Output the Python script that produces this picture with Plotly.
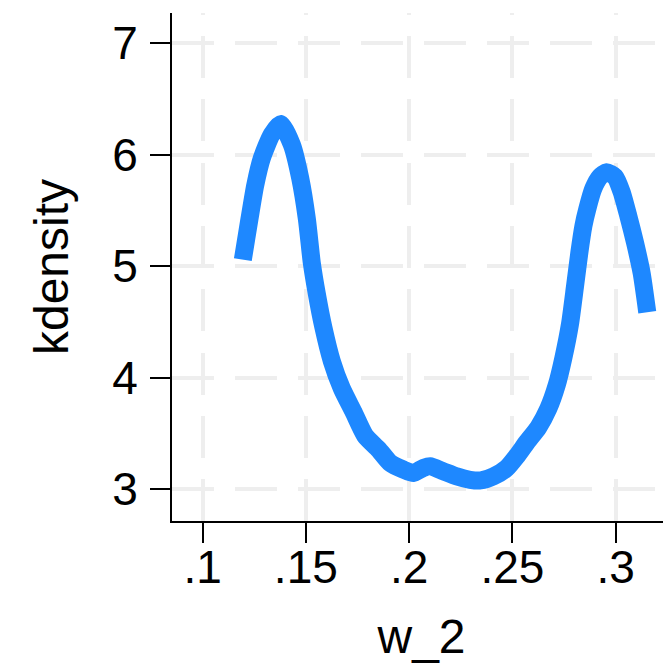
import plotly.graph_objects as go

# kernel density curve of w_2
w_2 = [0.1195, 0.1227, 0.1255, 0.1287, 0.1335, 0.1379, 0.1432, 0.1473, 0.1505,
       0.1529, 0.1553, 0.1585, 0.1626, 0.1674, 0.1731, 0.1787, 0.1852, 0.1908,
       0.1973, 0.2021, 0.2069, 0.2102, 0.2166, 0.2231, 0.2295, 0.2347, 0.2408,
       0.2473, 0.2521, 0.2569, 0.2626, 0.2674, 0.2715, 0.2747, 0.2779, 0.2803,
       0.2824, 0.2844, 0.2863, 0.2892, 0.2924, 0.2956, 0.2997, 0.3029, 0.3061,
       0.3094, 0.3126, 0.3153]
kdensity = [5.058, 5.422, 5.725, 5.968, 6.181, 6.275, 6.090, 5.786, 5.422,
            5.027, 4.754, 4.451, 4.147, 3.904, 3.692, 3.480, 3.358, 3.237,
            3.176, 3.146, 3.191, 3.206, 3.161, 3.115, 3.085, 3.079, 3.115,
            3.191, 3.297, 3.419, 3.555, 3.722, 3.935, 4.178, 4.481, 4.815,
            5.118, 5.361, 5.513, 5.695, 5.801, 5.841, 5.801, 5.665, 5.452,
            5.209, 4.936, 4.587]

x_ticks = [0.1, 0.15, 0.2, 0.25, 0.3]
x_ticklabels = [".1", ".15", ".2", ".25", ".3"]
y_ticks = [3, 4, 5, 6, 7]
y_ticklabels = ["3", "4", "5", "6", "7"]

FONT = "Liberation Sans, Arial, Helvetica, sans-serif"
GRID = "rgb(238,238,238)"

# dash patterns mimicking Stata's dashed grid
h_dash = ",".join(["42px", "21px"] * 2)
v_dash = ",".join(["2px", "21px"] + ["42px", "21.3px"] * 8)

fig = go.Figure()
fig.add_trace(go.Scatter(
    x=w_2, y=kdensity, mode="lines",
    line=dict(color="#1E88FF", width=18, shape="spline", smoothing=0.6),
    showlegend=False, hoverinfo="skip",
))

# the page body adds an 8px offset, so the figure is 8px smaller
fig.update_layout(
    template="none",
    width=663, height=658,
    margin=dict(l=164, r=0, t=5, b=145, pad=0),
    paper_bgcolor="white", plot_bgcolor="white",
    font=dict(family=FONT, color="black"),
    showlegend=False,
)

fig.update_xaxes(
    automargin=False,
    range=[0.0852, 0.3268],
    tickvals=x_ticks, ticktext=x_ticklabels,
    tickfont=dict(size=46, family=FONT, color="black"),
    ticks="outside", ticklen=20, tickwidth=2, tickcolor="black",
    ticklabelstandoff=-15,
    showline=True, linecolor="black", linewidth=2,
    showgrid=True, gridcolor=GRID, gridwidth=4, griddash=v_dash,
    zeroline=False,
    title=dict(text="w_2", font=dict(size=48, family=FONT, color="black"), standoff=27),
)
fig.update_yaxes(
    automargin=False,
    range=[2.7154, 7.269],
    tickvals=y_ticks, ticktext=y_ticklabels,
    tickfont=dict(size=46, family=FONT, color="black"),
    ticks="outside", ticklen=20, tickwidth=2, tickcolor="black",
    ticklabelstandoff=3,
    showline=True, linecolor="black", linewidth=2,
    showgrid=True, gridcolor=GRID, gridwidth=4, griddash=h_dash,
    zeroline=False,
    title=dict(text="kdensity", font=dict(size=48, family=FONT, color="black"), standoff=28),
)

fig.write_html("out.html")
